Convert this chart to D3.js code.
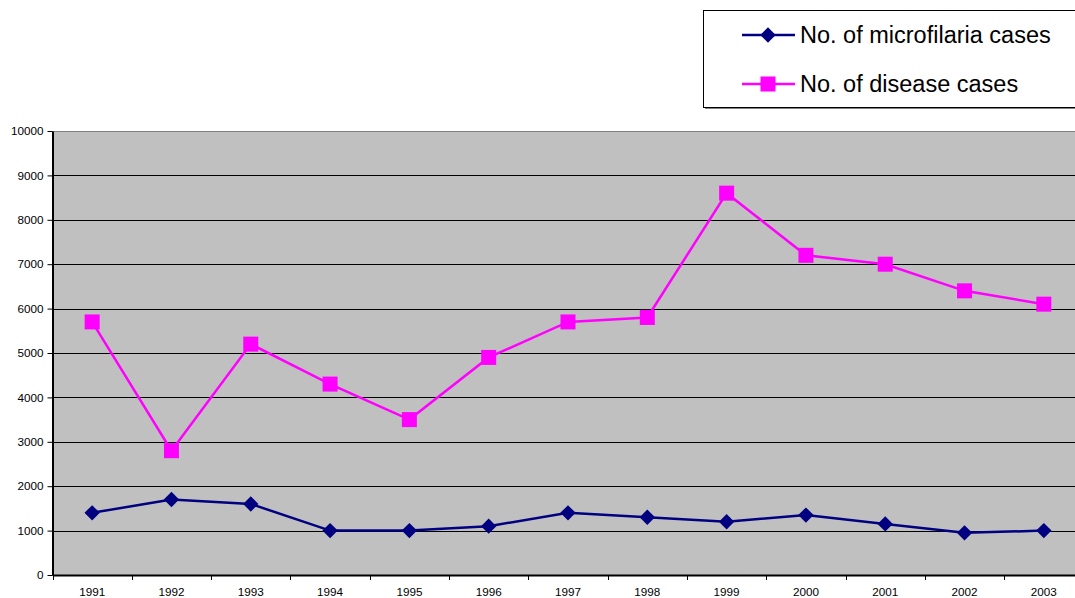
<!DOCTYPE html>
<html><head><meta charset="utf-8">
<script src="https://cdn.jsdelivr.net/npm/d3@7"></script>
<style>body{margin:0;background:#fff;}svg{display:block;}</style>
</head><body>
<svg id="c" width="1075" height="598"></svg>
<script>
const years = ["1991","1992","1993","1994","1995","1996","1997","1998","1999","2000","2001","2002","2003"];
const microfilaria = [1400,1700,1600,1000,1000,1100,1400,1300,1200,1350,1150,950,1000];
const disease = [5700,2800,5200,4300,3500,4900,5700,5800,8600,7200,7000,6400,6100];
const yTicks = [0,1000,2000,3000,4000,5000,6000,7000,8000,9000,10000];
const seriesNames = ["No. of microfilaria cases","No. of disease cases"];

(function(){
const svg = d3.select("#c");
const pL = 52.5, pR = 1083.5, pT = 131, pB = 575;
const x = d3.scaleBand().domain(years).range([pL, pR]);
const y = d3.scaleLinear().domain([0,10000]).range([pB, pT]);
const FONT = "Liberation Sans, Arial, sans-serif";

svg.append("rect").attr("x", pL).attr("y", pT + 0.5).attr("width", pR-pL).attr("height", pB-pT)
  .attr("fill", "#c0c0c0").attr("stroke", "#808080").attr("stroke-width", 1);

svg.append("g").selectAll("line").data(yTicks.slice(1, -1)).join("line")
  .attr("x1", pL).attr("x2", pR)
  .attr("y1", d => Math.round(y(d)) + 0.5).attr("y2", d => Math.round(y(d)) + 0.5)
  .attr("stroke", "#000").attr("stroke-width", 1);

const yAxis = d3.axisLeft(y).tickValues(yTicks).tickSize(5).tickSizeOuter(0).tickFormat(d3.format("d"));
const gy = svg.append("g").attr("transform", `translate(${pL},0)`).call(yAxis);
gy.select(".domain").attr("stroke", "#000").attr("stroke-width", 2);
gy.selectAll(".tick line").attr("stroke", "#000");
gy.selectAll("text").attr("font-family", FONT).attr("font-size", 11.7).attr("fill", "#000").attr("x", -9);

const gx = svg.append("g").attr("transform", `translate(0,${pB})`)
  .call(d3.axisBottom(x).tickSize(0).tickSizeOuter(0));
gx.select(".domain").attr("stroke", "#000").attr("stroke-width", 2);
gx.selectAll("text").attr("font-family", FONT).attr("font-size", 11.7).attr("fill", "#000").attr("dy", "1.5em");
svg.append("g").selectAll("line").data(years).join("line")
  .attr("x1", d => Math.round(x(d)) + 0.5).attr("x2", d => Math.round(x(d)) + 0.5)
  .attr("y1", pB).attr("y2", pB + 5).attr("stroke", "#000");

const cx = d => x(d) + x.bandwidth()/2;
const line = d3.line().x((d,i) => cx(years[i])).y(d => y(d));

svg.append("path").datum(microfilaria).attr("d", line).attr("fill", "none").attr("stroke", "#000080").attr("stroke-width", 2.5);
svg.append("path").datum(disease).attr("d", line).attr("fill", "none").attr("stroke", "#ff00ff").attr("stroke-width", 2.5);

const diamond = d3.symbol().type(d3.symbolDiamond2).size(150);
svg.append("g").selectAll("path").data(microfilaria).join("path")
  .attr("transform", (d,i) => `translate(${cx(years[i])},${y(d)})`)
  .attr("d", diamond).attr("fill", "#000080");
const sq = 15;
svg.append("g").selectAll("rect").data(disease).join("rect")
  .attr("x", (d,i) => cx(years[i]) - sq/2).attr("y", d => y(d) - sq/2)
  .attr("width", sq).attr("height", sq).attr("fill", "#ff00ff");

// Legend
const lg = svg.append("g");
lg.append("rect").attr("x", 705).attr("y", 12).attr("width", 400).attr("height", 97).attr("fill", "#808080");
lg.append("rect").attr("x", 703.5).attr("y", 10.5).attr("width", 400).attr("height", 97).attr("fill", "#fff").attr("stroke", "#000");
const colors = ["#000080", "#ff00ff"];
const rowsY = [35, 84];
seriesNames.forEach((name, i) => {
  const yy = rowsY[i];
  lg.append("line").attr("x1", 742).attr("x2", 795).attr("y1", yy).attr("y2", yy).attr("stroke", colors[i]).attr("stroke-width", 2.5);
  if (i === 0) lg.append("path").attr("transform", `translate(768,${yy})`).attr("d", diamond).attr("fill", colors[i]);
  else lg.append("rect").attr("x", 768 - sq/2).attr("y", yy - sq/2).attr("width", sq).attr("height", sq).attr("fill", colors[i]);
  lg.append("text").attr("x", 800).attr("y", yy).attr("dy", "0.36em").attr("font-family", FONT)
    .attr("font-size", 23.5).attr("fill", "#000").text(name);
});
})();
</script>
</body></html>
